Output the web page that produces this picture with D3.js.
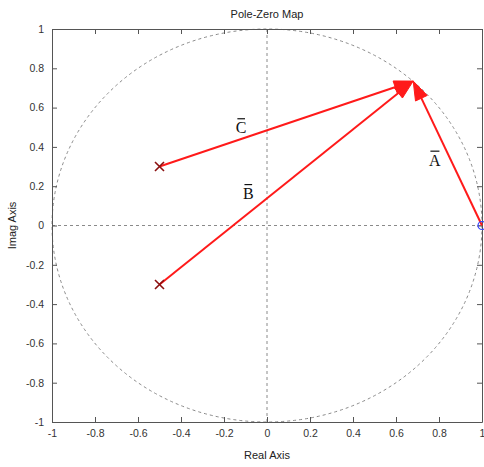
<!DOCTYPE html>
<html>
<head>
<meta charset="utf-8">
<script src="https://cdn.jsdelivr.net/npm/d3@7"></script>
<style>
  html, body { margin: 0; padding: 0; background: #fff; }
  svg { display: block; }
  .tick text { font-family: "Liberation Sans", Arial, sans-serif; font-size: 10.5px; fill: #333; }
</style>
</head>
<body>
<svg id="chart" width="484" height="467"></svg>
<script>
// Pole-zero map with vectors from each pole/zero to a point on the unit circle
const poles = [[-0.5, 0.3], [-0.5, -0.3]];
const zeros = [[1, 0]];
const evalPoint = [0.68, 0.735];
// Vector name, start point (pole or zero), label anchor
const vectorNames = ["A", "B", "C"];
const vectorStarts = [zeros[0], poles[1], poles[0]];
const labelAnchors = [[0.78, 0.335], [-0.087, 0.165], [-0.12, 0.5]];
const tickValues = [-1, -0.8, -0.6, -0.4, -0.2, 0, 0.2, 0.4, 0.6, 0.8, 1];

const svg = d3.select("#chart");
const plotLeft = 52, plotRight = 482, plotTop = 29, plotBottom = 422;
const x = d3.scaleLinear().domain([-1, 1]).range([plotLeft, plotRight]);
const y = d3.scaleLinear().domain([-1, 1]).range([plotBottom, plotTop]);

const axisColor = "#555";
const fmt = d => d === 0 ? "0" : String(d);

// Dashed reference lines: unit circle and the two axes through the origin
const grid = svg.append("g").attr("stroke", "#8a8a8a").attr("stroke-width", 1)
  .attr("stroke-dasharray", "3,3").attr("fill", "none");
grid.append("ellipse")
  .attr("cx", x(0)).attr("cy", y(0))
  .attr("rx", x(1) - x(0)).attr("ry", y(0) - y(1));
grid.append("line").attr("x1", x(-1)).attr("x2", x(1)).attr("y1", y(0)).attr("y2", y(0));
grid.append("line").attr("x1", x(0)).attr("x2", x(0)).attr("y1", y(-1)).attr("y2", y(1));

// Axes with inward ticks on all four sides
const gx = svg.append("g").attr("transform", `translate(0,${plotBottom})`)
  .call(d3.axisBottom(x).tickValues(tickValues).tickFormat(fmt).tickSizeInner(-5).tickSizeOuter(0).tickPadding(8));
const gy = svg.append("g").attr("transform", `translate(${plotLeft},0)`)
  .call(d3.axisLeft(y).tickValues(tickValues).tickFormat(fmt).tickSizeInner(-5).tickSizeOuter(0).tickPadding(8));
const gt = svg.append("g").attr("transform", `translate(0,${plotTop})`)
  .call(d3.axisTop(x).tickValues(tickValues).tickFormat("").tickSizeInner(-5).tickSizeOuter(0));
const gr = svg.append("g").attr("transform", `translate(${plotRight},0)`)
  .call(d3.axisRight(y).tickValues(tickValues).tickFormat("").tickSizeInner(-5).tickSizeOuter(0));
[gx, gy, gt, gr].forEach(g => {
  g.selectAll("path,line").attr("stroke", axisColor);
});

// Vectors from each pole/zero to the evaluation point
const red = "#ff1a1a";
const ex = x(evalPoint[0]), ey = y(evalPoint[1]);
const headLen = 19, headHalf = 6.5;
const vecs = svg.append("g");
vectorStarts.forEach(s => {
  const sx = x(s[0]), sy = y(s[1]);
  const dx = ex - sx, dy = ey - sy;
  const L = Math.hypot(dx, dy);
  const ux = dx / L, uy = dy / L;
  const bx = ex - ux * headLen, by = ey - uy * headLen;
  vecs.append("line")
    .attr("x1", sx).attr("y1", sy).attr("x2", bx + ux * 2).attr("y2", by + uy * 2)
    .attr("stroke", red).attr("stroke-width", 2);
  vecs.append("path")
    .attr("d", d3.line()([[ex, ey], [bx - uy * headHalf, by + ux * headHalf], [bx + uy * headHalf, by - ux * headHalf]]) + "Z")
    .attr("fill", red).attr("stroke", red).attr("stroke-width", 1).attr("stroke-linejoin", "miter");
});

// Poles as x markers, zeros as circles
const poleColor = "#8b1010";
svg.append("g").selectAll("path").data(poles).join("path")
  .attr("d", d => {
    const cx = x(d[0]), cy = y(d[1]), r = 4.5;
    return `M${cx - r},${cy - r}L${cx + r},${cy + r}M${cx - r},${cy + r}L${cx + r},${cy - r}`;
  })
  .attr("stroke", poleColor).attr("stroke-width", 1.6).attr("fill", "none");
svg.append("g").selectAll("circle").data(zeros).join("circle")
  .attr("cx", d => x(d[0])).attr("cy", d => y(d[1])).attr("r", 4)
  .attr("fill", "none").attr("stroke", "#3344ff").attr("stroke-width", 1.2);

// Vector labels with overbars
const labels = svg.append("g");
vectorNames.forEach((name, i) => {
  const lx = x(labelAnchors[i][0]), ly = y(labelAnchors[i][1]);
  const t = labels.append("text")
    .attr("x", lx).attr("y", ly + 6)
    .attr("text-anchor", "middle")
    .attr("font-family", "'Liberation Serif', 'Times New Roman', serif")
    .attr("font-size", 16)
    .attr("fill", "#111")
    .text(name);
  const bb = t.node().getBBox();
  labels.append("line")
    .attr("x1", bb.x + 1.5).attr("x2", bb.x + bb.width - 1.5)
    .attr("y1", ly - 8.5).attr("y2", ly - 8.5)
    .attr("stroke", "#111").attr("stroke-width", 1.2);
});

// Title and axis titles
const sans = "'Liberation Sans', Arial, sans-serif";
svg.append("text").attr("x", (plotLeft + plotRight) / 2).attr("y", 18)
  .attr("text-anchor", "middle").attr("font-family", sans).attr("font-size", 11).attr("fill", "#222")
  .text("Pole-Zero Map");
svg.append("text").attr("x", (plotLeft + plotRight) / 2).attr("y", 459)
  .attr("text-anchor", "middle").attr("font-family", sans).attr("font-size", 11).attr("fill", "#222")
  .text("Real Axis");
svg.append("text")
  .attr("transform", `translate(16,${(plotTop + plotBottom) / 2}) rotate(-90)`)
  .attr("text-anchor", "middle").attr("font-family", sans).attr("font-size", 11).attr("fill", "#222")
  .text("Imag Axis");
</script>
</body>
</html>
